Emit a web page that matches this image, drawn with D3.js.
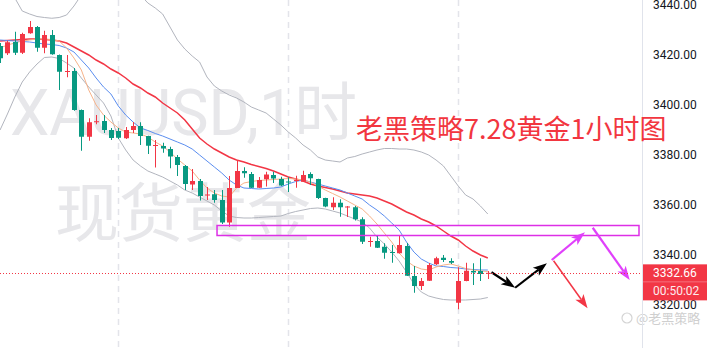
<!DOCTYPE html>
<html>
<head>
<meta charset="utf-8">
<script src="https://cdn.jsdelivr.net/npm/d3@7"></script>
<style>
  body { margin: 0; background: #ffffff; }
  svg { display: block; font-family: Roboto, "Noto Sans", sans-serif; }
</style>
</head>
<body>
<div id="chart"></div>
<script>
// hourly XAUUSD bars: [open, high, low, close]
const candles = [
  [3423.4, 3424.6, 3416.6, 3418.5], [3420.5, 3425.5, 3419.8, 3424.9], [3425.0, 3429.1, 3419.8, 3420.7],
  [3420.7, 3428.7, 3420.2, 3428.2], [3428.5, 3433.4, 3428.3, 3431.0], [3431.0, 3431.4, 3421.1, 3422.7],
  [3422.7, 3429.5, 3420.5, 3427.8], [3427.8, 3429.8, 3419.9, 3420.1], [3419.8, 3420.0, 3405.8, 3413.1],
  [3413.0, 3419.8, 3410.9, 3413.4], [3413.4, 3414.6, 3397.5, 3397.8], [3397.8, 3398.0, 3381.5, 3387.1],
  [3387.1, 3394.5, 3385.5, 3392.9], [3392.9, 3395.8, 3392.1, 3393.3], [3393.4, 3395.8, 3388.6, 3389.8],
  [3389.8, 3390.6, 3385.8, 3386.6], [3389.4, 3390.6, 3386.2, 3386.7], [3386.5, 3391.0, 3386.2, 3389.8],
  [3389.8, 3393.0, 3388.6, 3391.4], [3391.4, 3392.9, 3383.8, 3387.4], [3387.4, 3387.5, 3380.2, 3383.5],
  [3383.5, 3385.8, 3374.8, 3383.8], [3383.4, 3384.7, 3380.7, 3382.4], [3382.2, 3383.1, 3374.5, 3379.2],
  [3379.0, 3379.8, 3371.4, 3375.8], [3375.4, 3375.8, 3365.8, 3368.2], [3368.0, 3374.2, 3365.8, 3369.4],
  [3369.4, 3370.2, 3361.6, 3363.4], [3363.6, 3367.0, 3361.8, 3364.0], [3364.1, 3365.8, 3360.7, 3361.8],
  [3361.8, 3365.8, 3352.2, 3352.8], [3352.8, 3371.4, 3351.1, 3366.6], [3366.6, 3377.4, 3366.6, 3373.4],
  [3373.4, 3374.9, 3370.7, 3372.5], [3372.2, 3373.0, 3366.6, 3366.7], [3366.7, 3371.0, 3366.6, 3369.8],
  [3370.1, 3373.1, 3367.2, 3372.0], [3371.8, 3373.1, 3368.6, 3370.4], [3370.2, 3371.1, 3367.4, 3367.6],
  [3369.2, 3370.9, 3365.0, 3368.8], [3369.4, 3371.5, 3366.7, 3369.8], [3369.1, 3373.5, 3369.0, 3371.8],
  [3372.2, 3372.9, 3367.8, 3370.5], [3370.2, 3370.3, 3362.2, 3362.6], [3362.6, 3362.7, 3358.9, 3359.2],
  [3358.9, 3362.9, 3357.8, 3360.7], [3360.7, 3362.1, 3355.1, 3358.9], [3358.8, 3359.4, 3355.0, 3359.2],
  [3358.9, 3359.4, 3353.6, 3354.1], [3354.1, 3354.9, 3344.2, 3345.1], [3345.0, 3347.1, 3343.1, 3345.4],
  [3345.4, 3347.4, 3342.6, 3342.7], [3343.1, 3344.5, 3338.3, 3340.7], [3341.0, 3343.8, 3336.7, 3340.6],
  [3340.5, 3347.4, 3340.4, 3343.8], [3343.4, 3344.6, 3331.4, 3331.5], [3331.4, 3335.4, 3324.7, 3327.4],
  [3327.4, 3330.6, 3325.8, 3329.4], [3329.5, 3336.6, 3329.4, 3335.8], [3336.1, 3339.1, 3335.8, 3338.5],
  [3338.7, 3339.8, 3337.0, 3337.8], [3337.4, 3338.5, 3336.2, 3336.7], [3320.7, 3334.9, 3318.1, 3329.4],
  [3329.4, 3336.7, 3329.3, 3333.5], [3333.4, 3336.5, 3327.8, 3332.8], [3333.4, 3338.5, 3329.4, 3332.2],
  [3332.4, 3333.4, 3330.2, 3332.66]
];

// indicator values, one per bar
const maFast = [3422.6, 3423.8, 3424.6, 3425.4, 3425.8, 3426.2, 3426.2, 3426.0, 3425.4, 3422.6, 3418.6, 3413.8, 3405.8, 3399.8, 3395.8, 3393.0, 3390.6, 3389.0, 3388.6, 3388.2, 3387.0, 3385.0, 3383.4, 3381.0, 3378.2, 3375.8, 3373.4, 3369.8, 3366.6, 3364.6, 3363.4, 3363.0, 3366.6, 3368.6, 3369.2, 3369.6, 3369.8, 3370.0, 3370.2, 3370.4, 3370.2, 3369.8, 3369.0, 3367.4, 3365.8, 3364.4, 3363.0, 3361.4, 3359.8, 3358.2, 3355.4, 3352.2, 3348.6, 3345.0, 3340.6, 3337.4, 3335.4, 3334.2, 3333.8, 3335.0, 3335.8, 3336.2, 3335.4, 3334.4, 3333.8, 3333.4, 3333.2];
const maMid = [3425.8, 3425.6, 3425.4, 3425.2, 3425.0, 3424.6, 3424.2, 3424.0, 3423.6, 3422.6, 3421.0, 3417.8, 3414.6, 3410.6, 3407.0, 3404.2, 3399.4, 3395.8, 3393.0, 3390.6, 3389.6, 3388.4, 3387.4, 3386.2, 3385.0, 3383.8, 3382.2, 3379.8, 3377.4, 3375.0, 3372.6, 3369.8, 3367.8, 3366.6, 3366.4, 3366.2, 3366.4, 3366.6, 3367.0, 3368.2, 3369.2, 3369.8, 3369.0, 3368.2, 3367.4, 3366.6, 3365.8, 3364.6, 3363.4, 3362.2, 3359.8, 3357.8, 3355.4, 3352.6, 3349.8, 3345.0, 3341.0, 3338.2, 3336.6, 3335.4, 3335.2, 3334.8, 3334.6, 3334.2, 3334.0, 3333.8, 3333.8];
const maSlow = [3425.4, 3425.6, 3425.8, 3426.0, 3426.2, 3426.2, 3426.0, 3425.8, 3425.4, 3424.6, 3423.0, 3421.4, 3419.8, 3417.8, 3416.2, 3414.2, 3412.6, 3410.6, 3408.2, 3406.6, 3404.6, 3403.0, 3400.6, 3398.6, 3396.6, 3393.8, 3390.2, 3386.6, 3384.2, 3382.2, 3380.6, 3379.0, 3377.8, 3377.0, 3376.0, 3375.2, 3374.4, 3373.4, 3372.2, 3371.0, 3370.2, 3369.4, 3368.2, 3367.4, 3366.8, 3366.2, 3365.4, 3364.6, 3364.2, 3363.8, 3363.4, 3362.6, 3361.4, 3360.2, 3358.6, 3357.0, 3355.8, 3354.2, 3353.0, 3351.4, 3349.4, 3347.4, 3345.8, 3343.4, 3341.4, 3339.8, 3338.6];
const bandUpper = [3451.8, 3447.8, 3442.6, 3437.4, 3436.2, 3435.2, 3434.8, 3434.5, 3434.8, 3435.8, 3439.4, 3443.8, 3447.8, 3450.6, 3452.2, 3453.0, 3452.6, 3450.6, 3447.4, 3443.8, 3440.6, 3438.6, 3436.2, 3431.0, 3425.8, 3422.2, 3419.4, 3417.0, 3411.0, 3407.4, 3405.4, 3403.8, 3402.6, 3401.0, 3399.0, 3397.8, 3396.6, 3394.2, 3391.8, 3389.0, 3386.6, 3383.8, 3381.8, 3379.0, 3377.8, 3377.4, 3377.0, 3378.6, 3379.2, 3380.2, 3381.0, 3381.8, 3382.4, 3382.4, 3382.2, 3382.2, 3381.8, 3381.0, 3379.8, 3377.8, 3375.4, 3371.4, 3367.4, 3363.8, 3362.2, 3359.4, 3356.2];
const bandLower = [3389.8, 3396.2, 3403.0, 3409.0, 3413.0, 3416.2, 3418.8, 3419.0, 3418.4, 3416.6, 3414.6, 3410.6, 3407.0, 3403.8, 3400.6, 3395.4, 3386.6, 3381.8, 3377.8, 3375.4, 3373.4, 3372.2, 3371.0, 3369.4, 3367.8, 3365.8, 3364.6, 3363.0, 3361.4, 3359.8, 3357.4, 3355.4, 3354.8, 3354.6, 3354.6, 3354.8, 3355.0, 3355.2, 3355.4, 3356.4, 3357.2, 3357.8, 3358.4, 3358.6, 3358.2, 3357.4, 3356.6, 3355.4, 3354.2, 3353.0, 3350.6, 3347.0, 3344.2, 3341.0, 3337.4, 3333.0, 3328.2, 3325.0, 3323.4, 3322.6, 3322.0, 3321.8, 3321.8, 3321.8, 3322.0, 3322.2, 3322.8];

const dayStarts = [16, 39, 62];
const priceTicks = [3320, 3340, 3360, 3380, 3400, 3420, 3440];
const lastPrice = 3332.66;
const countdown = "00:50:02";

// drawings on the chart, in bar index / price units
const zoneBox = { i1: 29.36, i2: 86.46, top: 3351.6, bottom: 3347.6 };
const arrowKind = ["black", "black", "magenta", "magenta", "red"];
const arrowFrom = [[66.5, 3332.9], [69.7, 3326.7], [74.65, 3337.8], [80.2, 3350.7], [74.9, 3337.5]];
const arrowTo = [[69.7, 3326.7], [74.0, 3336.5], [79.15, 3348.9], [85.2, 3329.8], [79.5, 3318.5]];

const titleText = "老黑策略7.28黄金1小时图";
const watermark1 = "XAUUSD,1时";
const watermark2 = "现货黄金";
const brandText = "@老黑策略";

document.addEventListener("DOMContentLoaded", function () {
  drawChart();
});

function drawChart() {
  var width = 707, height = 348, plotW = 642;
  var up = "#f23645", down = "#089981";
  var arrowColor = { black: "#000000", magenta: "#e040fb", red: "#f23645" };

  var svg = d3.select("#chart").append("svg")
    .attr("width", width)
    .attr("height", height);

  svg.append("defs").append("clipPath").attr("id", "plotclip")
    .append("rect").attr("x", 0).attr("y", 0).attr("width", plotW).attr("height", height);

  var x = d3.scaleLinear().domain([0, candles.length - 1]).range([0.06, 487.8]);
  var y = d3.scaleLinear().domain([3320, 3440]).range([304.5, 4.5]);

  var plot = svg.append("g").attr("clip-path", "url(#plotclip)");

  // watermark
  plot.append("text")
    .attr("x", 10).attr("y", 135)
    .attr("textLength", 347).attr("lengthAdjust", "spacingAndGlyphs")
    .style("font-family", "Roboto, 'Noto Sans CJK SC', sans-serif")
    .style("font-size", "64px")
    .style("fill", "#e7e7ea")
    .text(watermark1);
  plot.append("text")
    .attr("x", 55).attr("y", 236)
    .style("font-family", "'Noto Sans CJK SC', sans-serif")
    .style("font-size", "64px")
    .style("fill", "#e7e7ea")
    .text(watermark2);

  // day separators
  plot.selectAll("line.day").data(dayStarts).enter().append("line")
    .attr("class", "day")
    .attr("x1", d => Math.round(x(d)) + 0.5).attr("x2", d => Math.round(x(d)) + 0.5)
    .attr("y1", 0).attr("y2", height)
    .attr("stroke", "#e3e4ea").attr("stroke-width", 1.5)
    .attr("stroke-dasharray", "6,5");

  // indicator lines
  function drawLine(values, color, w) {
    var line = d3.line().x((d, i) => x(i)).y(d => y(d));
    plot.append("path").datum(values)
      .attr("d", line)
      .attr("fill", "none")
      .attr("stroke", color)
      .attr("stroke-width", w);
  }
  drawLine(bandUpper, "#b2b5be", 1);
  drawLine(bandLower, "#b2b5be", 1);
  drawLine(maSlow, "#f23645", 1.5);
  drawLine(maMid, "#5b8ef0", 1);
  drawLine(maFast, "#f7b38a", 1);

  // candles
  var bars = plot.selectAll("g.bar").data(candles).enter().append("g").attr("class", "bar");
  bars.append("line")
    .attr("x1", (d, i) => Math.round(x(i)) + 0.5)
    .attr("x2", (d, i) => Math.round(x(i)) + 0.5)
    .attr("y1", d => y(d[1]))
    .attr("y2", d => y(d[2]))
    .attr("stroke", d => d[3] >= d[0] ? up : down)
    .attr("stroke-width", 1);
  bars.append("rect")
    .attr("x", (d, i) => Math.round(x(i)) - 2)
    .attr("width", 5)
    .attr("y", d => y(Math.max(d[0], d[3])))
    .attr("height", d => Math.max(1, Math.abs(y(d[0]) - y(d[3]))))
    .attr("fill", d => d[3] >= d[0] ? up : down);

  // zone rectangle
  plot.append("rect")
    .attr("x", x(zoneBox.i1))
    .attr("y", y(zoneBox.top))
    .attr("width", x(zoneBox.i2) - x(zoneBox.i1))
    .attr("height", y(zoneBox.bottom) - y(zoneBox.top))
    .attr("fill", "none")
    .attr("stroke", "#dd2fe6")
    .attr("stroke-width", 1.5);

  // arrows
  arrowFrom.forEach(function (a, k) {
    var b = arrowTo[k];
    var x1 = x(a[0]), y1 = y(a[1]), x2 = x(b[0]), y2 = y(b[1]);
    var ang = Math.atan2(y2 - y1, x2 - x1);
    var c = Math.cos(ang), s = Math.sin(ang);
    var L = 14, hw = 5;
    var col = arrowColor[arrowKind[k]];
    var bx = x2 - L * 0.75 * c, by = y2 - L * 0.75 * s;
    plot.append("line")
      .attr("x1", x1).attr("y1", y1).attr("x2", bx).attr("y2", by)
      .attr("stroke", col).attr("stroke-width", arrowKind[k] === "red" ? 1.5 : 2.2);
    var pts = [
      [x2, y2],
      [x2 - L * c - hw * s, y2 - L * s + hw * c],
      [bx, by],
      [x2 - L * c + hw * s, y2 - L * s - hw * c]
    ];
    plot.append("polygon")
      .attr("points", pts.map(p => p.join(",")).join(" "))
      .attr("fill", col);
  });

  // last price line
  plot.append("line")
    .attr("x1", 0).attr("x2", plotW)
    .attr("y1", Math.round(y(lastPrice)) + 0.5).attr("y2", Math.round(y(lastPrice)) + 0.5)
    .attr("stroke", up).attr("stroke-width", 1)
    .attr("stroke-dasharray", "1,2");

  // brand watermark
  var brand = svg.append("g").attr("transform", "translate(621,322)");
  brand.append("circle").attr("cx", 6).attr("cy", -4).attr("r", 5)
    .attr("fill", "none").attr("stroke", "#d4d4d4").attr("stroke-width", 1.2);
  brand.append("text").attr("x", 15).attr("y", 1)
    .style("font-family", "'Noto Sans CJK SC', sans-serif")
    .style("font-size", "13px")
    .style("fill", "#cfcfcf")
    .text(brandText);

  // right price axis
  svg.append("line")
    .attr("x1", plotW + 0.5).attr("x2", plotW + 0.5)
    .attr("y1", 0).attr("y2", height)
    .attr("stroke", "#e0e3eb");

  var axis = svg.append("g")
    .attr("transform", "translate(" + plotW + ",0)")
    .call(d3.axisRight(y).tickValues(priceTicks).tickFormat(d3.format(".2f")).tickSize(0).tickPadding(11));
  axis.select(".domain").remove();
  axis.selectAll("text")
    .style("font-family", "Roboto, sans-serif")
    .style("font-size", "12px")
    .style("fill", "#131722");

  // title drawn over the axis area, as in the picture
  svg.append("text")
    .attr("x", 356).attr("y", 139)
    .style("font-family", "'Noto Sans CJK SC', 'Noto Sans', sans-serif")
    .style("font-size", "27px")
    .style("fill", "#f2363f")
    .text(titleText);

  var ly = y(lastPrice);
  var tag = svg.append("g");
  tag.append("rect")
    .attr("x", plotW + 1).attr("y", ly - 8.5)
    .attr("width", width - plotW - 1).attr("height", 36)
    .attr("fill", up);
  tag.append("line")
    .attr("x1", plotW + 1).attr("x2", width)
    .attr("y1", ly + 9).attr("y2", ly + 9)
    .attr("stroke", "#f5707c").attr("stroke-width", 1);
  tag.append("text")
    .attr("x", plotW + 11).attr("y", ly + 4.5)
    .style("font-size", "12px").style("fill", "#ffffff")
    .text(d3.format(".2f")(lastPrice));
  tag.append("text")
    .attr("x", plotW + 11).attr("y", ly + 22.5)
    .style("font-size", "12px").style("fill", "#ffffff").style("opacity", 0.9)
    .text(countdown);
}
</script>
</body>
</html>
